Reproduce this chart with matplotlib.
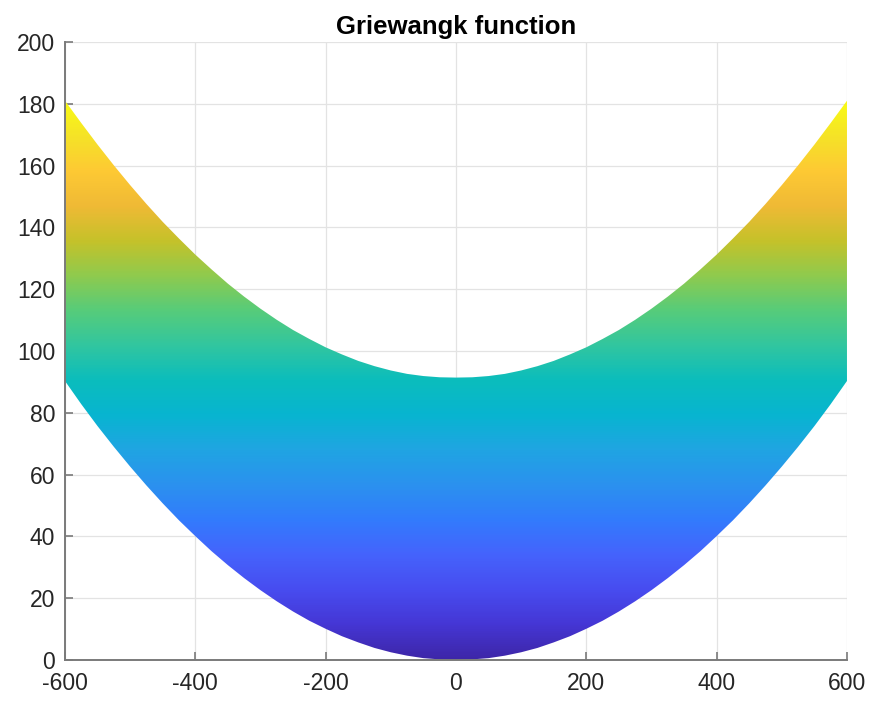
#import libraries
import numpy as np
import matplotlib
matplotlib.use('Agg')
import matplotlib.pyplot as plt
from matplotlib.colors import LinearSegmentedColormap

#edges of the surface seen from the side
x_pts = [-600, -575, -550, -525, -500, -475, -450, -425, -400, -375, -350, -325, -300,
         -275, -250, -225, -200, -175, -150, -125, -100, -75, -50, -25, 0,
         25, 50, 75, 100, 125, 150, 175, 200, 225, 250, 275, 300,
         325, 350, 375, 400, 425, 450, 475, 500, 525, 550, 575, 600]
lower_pts = [90.3, 82.8, 75.7, 69.0, 62.6, 56.5, 50.7, 45.2, 40.1, 35.2, 30.7, 26.5, 22.6,
             19.0, 15.7, 12.7, 10.1, 7.7, 5.7, 3.9, 2.5, 1.4, 0.6, 0.2, 0.0,
             0.2, 0.6, 1.4, 2.5, 3.9, 5.7, 7.7, 10.1, 12.7, 15.7, 19.0, 22.6,
             26.5, 30.7, 35.2, 40.1, 45.2, 50.7, 56.5, 62.6, 69.0, 75.7, 82.8, 90.3]
upper_pts = [181.0, 173.8, 166.8, 160.1, 153.7, 147.6, 141.8, 136.4, 131.2, 126.4, 121.8, 117.6, 113.7,
             110.1, 106.8, 103.9, 101.2, 98.9, 96.8, 95.1, 93.7, 92.6, 91.9, 91.5, 91.4,
             91.5, 91.9, 92.6, 93.7, 95.1, 96.8, 98.9, 101.2, 103.9, 106.8, 110.1, 113.7,
             117.6, 121.8, 126.4, 131.2, 136.4, 141.8, 147.6, 153.7, 160.1, 166.8, 173.8, 181.0]
z_min, z_max = 0.0, 181.0

x_ticks = [-600, -400, -200, 0, 200, 400, 600]
y_ticks = list(range(0, 201, 20))

#matlab parula colormap (subsampled)
parula_rows = [
    (0.2422, 0.1504, 0.6603), (0.2706, 0.2147, 0.8364), (0.2813, 0.3006, 0.9414),
    (0.2699, 0.3892, 0.9906), (0.1963, 0.4847, 0.9892), (0.1687, 0.5703, 0.9359),
    (0.1248, 0.6459, 0.8883), (0.0297, 0.7082, 0.8163), (0.0433, 0.7411, 0.7394),
    (0.1938, 0.7758, 0.6251), (0.3406, 0.8008, 0.4789), (0.5616, 0.7942, 0.3045),
    (0.7738, 0.7598, 0.1646), (0.9393, 0.7288, 0.2100), (0.9952, 0.7893, 0.2028),
    (0.9610, 0.8890, 0.1537), (0.9769, 0.9839, 0.0805)]
parula = LinearSegmentedColormap.from_list('parula', parula_rows, N=256)

plt.rcParams['font.family'] = ['Liberation Sans', 'DejaVu Sans']
plt.rcParams['axes.unicode_minus'] = False #plain hyphen like matlab
axcol = '#7a7a7a'
txtcol = '#262626'

fig = plt.figure(figsize=(8.72, 7.04), dpi=100)
ax = fig.add_axes([0.0745, 0.0625, 0.8968, 0.8778])

#colour gradient clipped to the region between the two edges
poly = ax.fill_between(x_pts, lower_pts, upper_pts, facecolor='none', edgecolor='none')
grad = np.linspace(z_min, z_max, 600).reshape(-1, 1)
img = ax.imshow(grad, cmap=parula, vmin=z_min, vmax=z_max, origin='lower', aspect='auto',
                extent=[-600, 600, z_min, z_max], interpolation='bilinear', zorder=2)
img.set_clip_path(poly.get_paths()[0], transform=ax.transData)

ax.set_xlim(-600, 600)
ax.set_ylim(0, 200)
ax.set_xticks(x_ticks)
ax.set_yticks(y_ticks)
ax.set_axisbelow(True)
ax.grid(True, color='#e3e3e3', linewidth=0.9)
for side in ['top', 'right']:
    ax.spines[side].set_visible(False)
for side in ['left', 'bottom']:
    ax.spines[side].set_color(axcol)
    ax.spines[side].set_linewidth(1.4)
    ax.spines[side].set_zorder(3)
ax.tick_params(direction='in', length=6, width=1.2, color=axcol, labelcolor=txtcol, labelsize=16.5)
ax.tick_params(axis='x', pad=9)
ax.tick_params(axis='y', pad=7)
ax.set_title('Griewangk function', fontsize=18.5, fontweight='bold', color='black', pad=6)

fig.savefig('out.png', dpi=100)
